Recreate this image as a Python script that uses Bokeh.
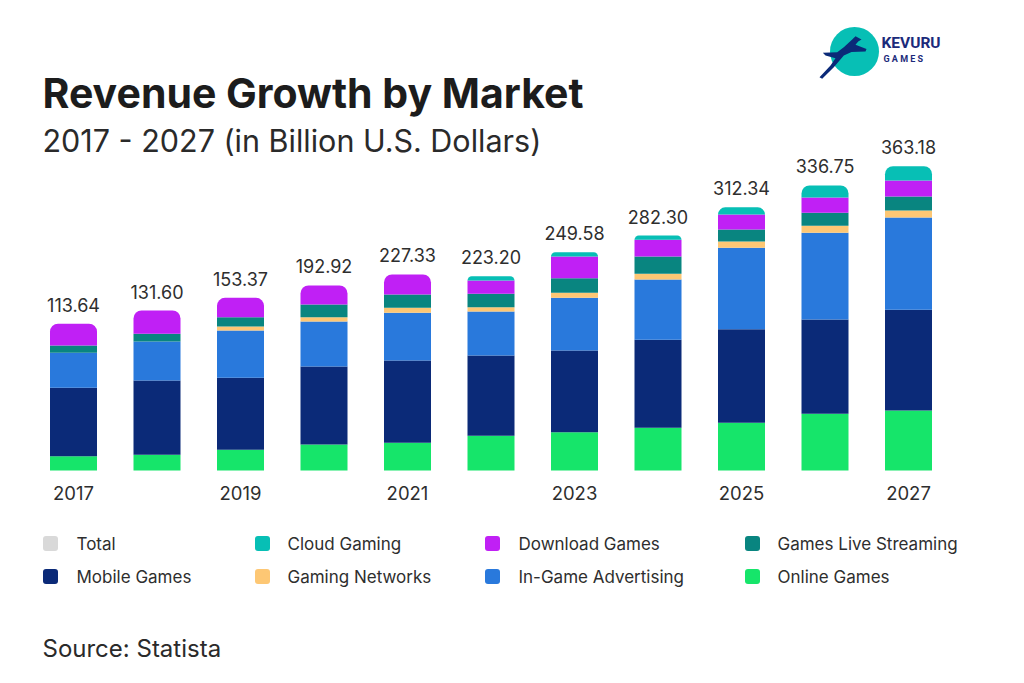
from bokeh.plotting import figure
from bokeh.models import Range1d, ColumnDataSource
from bokeh.embed import file_html
from bokeh.resources import INLINE
from bokeh.core.properties import value

# ---------------- data ----------------
years = ["2017", "2018", "2019", "2020", "2021", "2022", "2023", "2024", "2025", "2026", "2027"]
totals = [113.64, 131.60, 153.37, 192.92, 227.33, 223.20, 249.58, 282.30, 312.34, 336.75, 363.18]

# stacked segments, bottom to top
online_games = [17.1, 18.7, 24.7, 31.0, 33.1, 41.4, 45.7, 51.0, 56.9, 67.7, 71.6]
mobile_games = [81.6, 88.7, 85.9, 93.1, 98.2, 95.8, 97.5, 105.0, 111.7, 112.5, 120.2]
in_game_adv = [41.8, 46.5, 56.4, 53.7, 56.9, 52.5, 62.9, 72.0, 97.1, 103.5, 110.1]
gaming_networks = [0.0, 0.0, 4.8, 5.1, 6.0, 5.1, 6.0, 6.8, 7.5, 8.4, 8.4]
live_streaming = [8.7, 9.2, 11.1, 15.2, 15.9, 16.0, 17.4, 20.6, 14.3, 15.5, 16.7]
download_games = [25.9, 27.8, 23.2, 22.7, 23.9, 15.9, 25.9, 19.9, 17.9, 18.3, 19.1]
cloud_gaming = [0.0, 0.0, 0.0, 0.0, 0.0, 5.1, 5.1, 5.1, 8.7, 14.3, 17.1]

series_names = ["Online Games", "Mobile Games", "In-Game Advertising", "Gaming Networks",
                "Games Live Streaming", "Download Games", "Cloud Gaming"]
series_values = [online_games, mobile_games, in_game_adv, gaming_networks,
                 live_streaming, download_games, cloud_gaming]
colors = {
    "Total": "#d9d9d9",
    "Cloud Gaming": "#07bfb5",
    "Download Games": "#c020f5",
    "Games Live Streaming": "#098580",
    "Mobile Games": "#0b2a78",
    "Gaming Networks": "#fdc774",
    "In-Game Advertising": "#2979dc",
    "Online Games": "#16e56a",
}
legend_rows = [["Total", "Cloud Gaming", "Download Games", "Games Live Streaming"],
               ["Mobile Games", "Gaming Networks", "In-Game Advertising", "Online Games"]]

# ---------------- layout constants ----------------
W, H = 1008, 667
PX_PER_UNIT = 0.838          # vertical scale
BASE_Y = 470                 # y of baseline
X0, DX = 73, 83.5            # x of first bar centre, spacing
BAR_W = 47 / DX

p = figure(width=W, height=H, output_backend="svg", toolbar_location=None,
           x_range=Range1d(-X0 / DX, (W - X0) / DX),
           y_range=Range1d(-(H - BASE_Y) / PX_PER_UNIT, BASE_Y / PX_PER_UNIT),
           min_border=0, min_border_left=0, min_border_right=0,
           min_border_top=0, min_border_bottom=0,
           outline_line_color=None, background_fill_color="white",
           border_fill_color="white")
p.axis.visible = False
p.grid.visible = False
p.extra_x_ranges = {"px": Range1d(0, W)}
p.extra_y_ranges = {"px": Range1d(H, 0)}

FONT = value("Inter")
TXT = "#2e2e2e"

# ---------------- stacked bars ----------------
seg = dict(x=[], bottom=[], top=[], color=[])
topseg = dict(x=[], bottom=[], top=[], color=[])
for i in range(len(years)):
    cum = 0.0
    parts = []
    for name, vals in zip(series_names, series_values):
        v = vals[i]
        if v > 0:
            parts.append((cum, cum + v, colors[name]))
        cum += v
    for j, (b, t, c) in enumerate(parts):
        d = topseg if j == len(parts) - 1 else seg
        d["x"].append(i)
        d["bottom"].append(b)
        d["top"].append(t)
        d["color"].append(c)

p.vbar(x="x", bottom="bottom", top="top", width=BAR_W, fill_color="color",
       line_color=None, source=ColumnDataSource(seg))
p.vbar(x="x", bottom="bottom", top="top", width=BAR_W, fill_color="color",
       line_color=None, border_radius=(8, 8, 0, 0), source=ColumnDataSource(topseg))

stack_tops = [sum(v[i] for v in series_values) for i in range(len(years))]
p.text(x=list(range(len(years))), y=stack_tops,
       text=[f"{t:.2f}" for t in totals],
       text_font=FONT, text_font_size="18px", text_color=TXT,
       text_align="center", text_baseline="middle", y_offset=-19)

# year tick labels (every other year)
idx = list(range(0, len(years), 2))
p.text(x=idx, y=[492] * len(idx), y_range_name="px",
       text=[years[i] for i in idx], text_font=FONT, text_font_size="18.5px",
       text_color=TXT, text_align="center", text_baseline="middle")

# ---------------- titles ----------------
p.text(x=[42], y=[92], x_range_name="px", y_range_name="px",
       text=["Revenue Growth by Market"], text_font=FONT, text_font_size="41px",
       text_font_style="bold", text_color="#1c1c1c", text_baseline="middle")
p.text(x=[42], y=[140], x_range_name="px", y_range_name="px",
       text=["2017 - 2027 (in Billion U.S. Dollars)"], text_font=FONT,
       text_font_size="30.5px", text_color="#2a2a2a", text_baseline="middle")
p.text(x=[42], y=[648], x_range_name="px", y_range_name="px",
       text=["Source: Statista"], text_font=FONT, text_font_size="24px",
       text_color="#2a2a2a", text_baseline="middle")

# ---------------- legend ----------------
col_sq = [50, 262, 492, 752]
col_tx = [76, 287, 518, 777]
row_y = [543, 576]
lq = dict(left=[], right=[], top=[], bottom=[], color=[])
lt = dict(x=[], y=[], text=[])
for r, row in enumerate(legend_rows):
    for c, name in enumerate(row):
        cx, cy = col_sq[c], row_y[r]
        lq["left"].append(cx - 7.5)
        lq["right"].append(cx + 7.5)
        lq["top"].append(cy - 7.5)
        lq["bottom"].append(cy + 7.5)
        lq["color"].append(colors[name])
        lt["x"].append(col_tx[c])
        lt["y"].append(cy)
        lt["text"].append(name)
p.quad(left="left", right="right", top="top", bottom="bottom", fill_color="color",
       line_color=None, border_radius=3, x_range_name="px", y_range_name="px",
       source=ColumnDataSource(lq))
p.text(x="x", y="y", text="text", x_range_name="px", y_range_name="px",
       text_font=FONT, text_font_size="17px", text_color=TXT, text_baseline="middle",
       source=ColumnDataSource(lt))

# ---------------- logo ----------------
p.circle(x=[854], y=[51], radius=24.5, x_range_name="px", y_range_name="px",
         fill_color="#07bfb5", line_color=None)
deer_x = [855, 861, 857.7, 855, 866, 865, 851, 843.3, 833.3, 821.7, 819, 830, 835,
          825, 822.3, 836.7, 843.3, 851.7]
deer_y = [35.7, 39, 41, 44.3, 48.5, 51, 51.5, 55, 66.7, 78.3, 76.7, 65, 57.7,
          55, 52.3, 51.7, 46.7, 39]
p.patch(deer_x, deer_y, x_range_name="px", y_range_name="px",
        fill_color="#0b2a78", line_color=None)
p.text(x=[881], y=[42.5], x_range_name="px", y_range_name="px", text=["KEVURU"],
       text_font=value("Roboto"), text_font_size="15.5px", text_font_style="bold",
       text_color="#1b2a7a", text_baseline="middle")
p.text(x=[883], y=[58], x_range_name="px", y_range_name="px", text=["G A M E S"],
       text_font=value("Roboto"), text_font_size="9px", text_font_style="bold",
       text_color="#1b2a7a", text_baseline="middle")

open("out.html", "w").write(file_html(p, INLINE))
